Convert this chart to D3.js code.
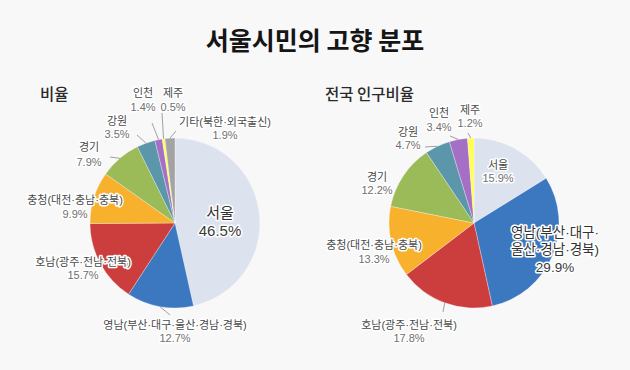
<!DOCTYPE html>
<html>
<head>
<meta charset="utf-8">
<script src="https://cdn.jsdelivr.net/npm/d3@7"></script>
<style>
body{ margin:0; background:#f8f8f8; }
svg{ font-family:"Liberation Sans","Noto Sans CJK KR",sans-serif; }
</style>
</head>
<body>
<div id="visOut"></div>
<script>
// regions, clockwise from 12 o'clock
var regions = ["서울", "영남(부산·대구·울산·경남·경북)", "호남(광주·전남·전북)", "충청(대전·충남·충북)",
               "경기", "강원", "인천", "제주", "기타(북한·외국출신)"];
var seoulShare = [46.5, 12.7, 15.7, 9.9, 7.9, 3.5, 1.4, 0.5, 1.9]; //서울시민 고향 비율
var nationShare = [15.9, 29.9, 17.8, 13.3, 12.2, 4.7, 3.4, 1.2];  //전국 인구비율
var colors = ["#dde3ee", "#3c78c0", "#cc3d3d", "#f8b12c", "#9bbb59", "#5b96aa", "#a66fc6", "#ffff57", "#a3a3a3"];

var width = 630, height = 370, radius = 85;

var svg = d3.select("#visOut")
    .append("svg")
    .attr("width", width)
    .attr("height", height);

svg.append("rect")
    .attr("width", width)
    .attr("height", height)
    .attr("fill", "#f8f8f8");

svg.append("text")
    .attr("x", 315)
    .attr("y", 50)
    .attr("text-anchor", "middle")
    .attr("font-family", "Noto Sans CJK KR")
    .attr("font-size", 25)
    .attr("font-weight", "bold")
    .attr("fill", "#151515")
    .text("서울시민의 고향 분포");

// label placement, offsets from the pie centre (t = name line, p = percent line)
var leftLayout = [
    {dx: 45, t: -10, p: 8, size: 15, inside: true},
    {dx: 0, t: 102, p: 115, lead: [-5, 92]},
    {dx: -92, t: 39, p: 52},
    {dx: -100, t: -23, p: -9},
    {dx: -86, t: -76, p: -61, lead: [-65, -66]},
    {dx: -58, t: -102, p: -89, lead: [-38, -88]},
    {dx: -32, t: -130, p: -116, lead: [-23, -100]},
    {dx: -2, t: -130, p: -116, lead: [-13, -110]},
    {dx: 50, t: -101, p: -88, lead: [1, -92]}
];
var rightLayout = [
    {dx: 24, t: -58, p: -45},
    {dx: 81, t: 9, p: 44, wrap: 26.5, size: 13.5, dark: true},
    {dx: -65, t: 102, p: 115, lead: [-31, 89]},
    {dx: -100, t: 22, p: 36},
    {dx: -97, t: -46, p: -33},
    {dx: -66, t: -91, p: -78, lead: [-49, -76]},
    {dx: -35, t: -110, p: -96, lead: [-24, -87]},
    {dx: -4, t: -113, p: -100, lead: [-6, -90]}
];

function addText(g, x, y, str, size, fill){
    g.append("text")
        .attr("x", x)
        .attr("y", y + size * 0.36)
        .attr("text-anchor", "middle")
        .attr("font-size", size)
        .attr("fill", fill)
        .attr("stroke", "#fff")
        .attr("stroke-width", 3)
        .attr("stroke-linejoin", "round")
        .attr("paint-order", "stroke")
        .text(str);
}

function drawPie(cx, cy, title, titleX, values, layout){

    svg.append("text")
        .attr("x", titleX)
        .attr("y", 100)
        .attr("font-family", "Noto Sans CJK KR")
        .attr("font-size", 15.5)
        .attr("font-weight", 500)
        .attr("fill", "#2a2a2a")
        .text(title);

    var g = svg.append("g").attr("transform", "translate(" + cx + "," + cy + ")");

    var pie = d3.pie().sort(null).value(function(d){ return d; });
    var arc = d3.arc().innerRadius(0).outerRadius(radius);
    var arcs = pie(values);

    g.selectAll("path")
        .data(arcs)
        .enter()
        .append("path")
        .attr("d", arc)
        .attr("fill", function(d, i){ return colors[i]; })
        .attr("stroke", "#fff")
        .attr("stroke-width", 0.3);

    //leader lines from the slice edge to the label
    arcs.forEach(function(d, i){
        var L = layout[i];
        if(!L.lead) return;
        var a = (d.startAngle + d.endAngle) / 2;
        g.append("line")
            .attr("x1", Math.sin(a) * radius)
            .attr("y1", -Math.cos(a) * radius)
            .attr("x2", L.lead[0])
            .attr("y2", L.lead[1])
            .attr("stroke", "#8a8a8a")
            .attr("stroke-width", 0.8);
    });

    //labels
    arcs.forEach(function(d, i){
        var L = layout[i];
        var size = L.size || 11;
        var nameCol = L.dark || L.inside ? "#333" : "#4a4a4a";
        var pctCol = L.dark || L.inside ? "#3a3a3a" : "#707070";
        var name = regions[i];
        if(L.wrap){
            var cut = name.indexOf("울산");
            addText(g, L.dx, L.t, name.slice(0, cut), size, nameCol);
            addText(g, L.dx, L.wrap, name.slice(cut), size, nameCol);
        }
        else{
            addText(g, L.dx, L.t, name, size, nameCol);
        }
        addText(g, L.dx, L.p, values[i] + "%", size, pctCol);
    });
}

drawPie(175, 223, "비율", 40, seoulShare, leftLayout);
drawPie(474, 223, "전국 인구비율", 325, nationShare, rightLayout);
</script>
</body>
</html>
